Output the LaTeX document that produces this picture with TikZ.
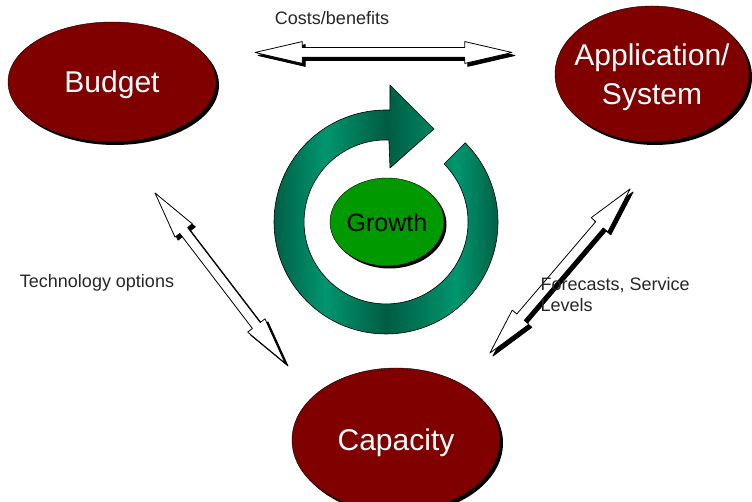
\documentclass[tikz,border=0pt]{standalone}
\usepackage{fontspec}
\setmainfont{Liberation Sans}
\usetikzlibrary{shapes.geometric,shapes.arrows,shadows}
\definecolor{topicred}{RGB}{128,0,0}
\definecolor{growthgreen}{RGB}{0,153,0}
\definecolor{ringdark}{RGB}{0,92,66}
\definecolor{ringlight}{RGB}{0,150,110}
\newcommand{\ringpath}{(465.2,359.2) arc [start angle=45, end angle=-272, radius=112]
  -- (390,417) -- (434,373) -- (390,334) -- (388.9,362)
  arc [start angle=-272, end angle=45, radius=82] -- cycle}
\tikzset{
  topic/.style={ellipse, fill=topicred, draw=black, line width=0.4pt, text=white,
    font=\fontsize{30}{39}\selectfont, align=center, inner sep=0pt, text depth=0pt,
    drop shadow={shadow xshift=3pt, shadow yshift=-3pt, fill=black, opacity=1}},
  hollowarrow/.style={double arrow, draw=black, fill=white, line width=0.8pt,
    inner xsep=0pt, inner ysep=4.5pt, double arrow head extend=6pt,
    double arrow tip angle=26},
  arrowshadow/.style={hollowarrow, fill=black},
  linktext/.style={font=\fontsize{18}{21}\selectfont, text=black!85}
}
\begin{document}
\begin{tikzpicture}[x=1pt, y=1pt, line join=round]
	\useasboundingbox (0,0) rectangle (752,502);
	% Wachstumsring
	\begin{scope}
		\clip \ringpath;
		\shade [left color=ringdark, right color=ringlight] (270,150) rectangle (325.5,425);
		\shade [left color=ringlight, right color=ringdark] (325,150) rectangle (386.5,425);
		\shade [left color=ringdark, right color=ringlight] (386,150) rectangle (456.5,425);
		\shade [left color=ringlight, right color=ringdark] (456,150) rectangle (502,425);
	\end{scope}
	\draw [line width=0.6pt] \ringpath;
	\node (growth) [ellipse, fill=growthgreen, draw=black, inner sep=0pt, text depth=0pt,
		minimum width=114, minimum height=88, font=\fontsize{25}{30}\selectfont,
		drop shadow={shadow xshift=2.5pt, shadow yshift=-2.5pt, fill=black, opacity=1}]
		at (387,280) {Growth};
	% Themen
	\node (budget) [topic, minimum width=208, minimum height=120] at (112,420) {Budget};
	\node (application) [topic, inner xsep=-14pt, minimum width=194, minimum height=136] at (652,428) {Application/\\System};
	\node (capacity) [topic, minimum width=208, minimum height=144] at (396,62) {Capacity};
	% Pfeile
	\node (costshadow) [arrowshadow, minimum height=257] at (386.5,446.5) {};
	\node (costarrow) [hollowarrow, minimum height=257] at (383.5,449.5) {};
	\node (techshadow) [arrowshadow, minimum height=214, rotate=-52.6] at (223,221) {};
	\node (techarrow) [hollowarrow, minimum height=214, rotate=-52.6] at (220,224) {};
	\node (forecastshadow) [arrowshadow, minimum height=216, rotate=49.5] at (563,228) {};
	\node (forecastarrow) [hollowarrow, minimum height=216, rotate=49.5] at (560,231) {};
	% Beschriftungen
	\node (costs) [linktext] at (332,484) {Costs/benefits};
	\node (technology) [linktext] at (97,219) {Technology options};
	\node (forecasts) [linktext, align=left, anchor=west] at (537,207) {Forecasts, Service\\Levels};
\end{tikzpicture}
\end{document}
